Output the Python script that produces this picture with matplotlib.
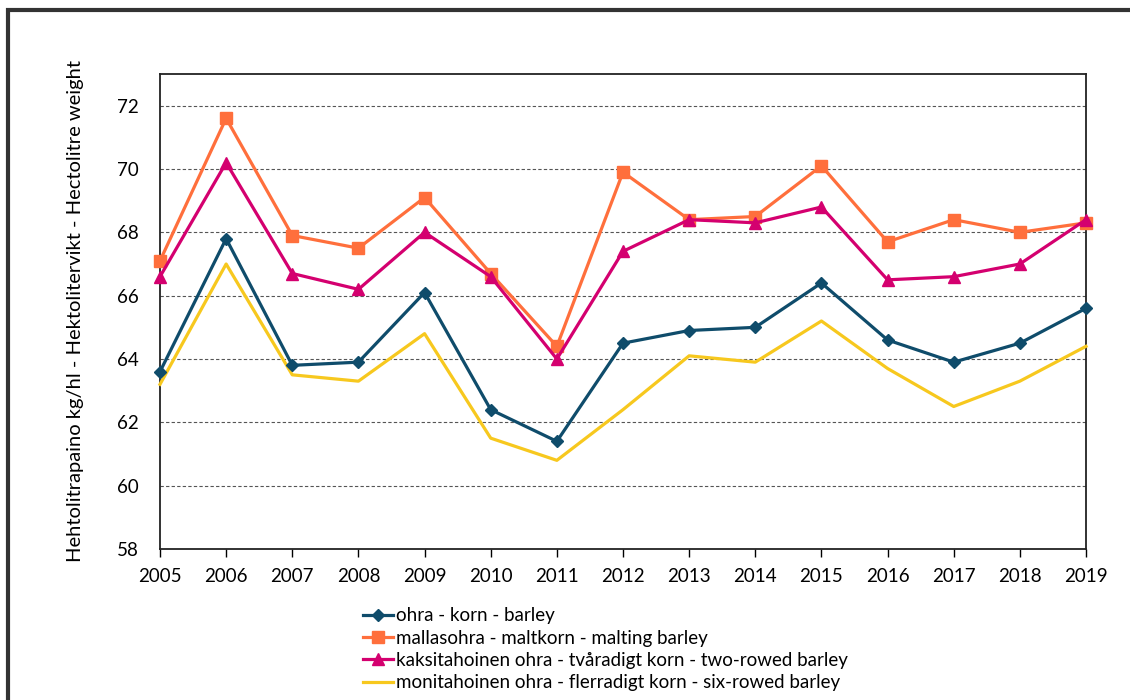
import matplotlib
matplotlib.use("Agg")
import matplotlib.pyplot as plt
from matplotlib.patches import Rectangle

plt.rcParams['font.family'] = ['Lato', 'DejaVu Sans']

years = list(range(2005, 2020))
barley = [63.6, 67.8, 63.8, 63.9, 66.1, 62.4, 61.4, 64.5, 64.9, 65.0, 66.4, 64.6, 63.9, 64.5, 65.6]
malting = [67.1, 71.6, 67.9, 67.5, 69.1, 66.7, 64.4, 69.9, 68.4, 68.5, 70.1, 67.7, 68.4, 68.0, 68.3]
two_rowed = [66.6, 70.2, 66.7, 66.2, 68.0, 66.6, 64.0, 67.4, 68.4, 68.3, 68.8, 66.5, 66.6, 67.0, 68.4]
six_rowed = [63.2, 67.0, 63.5, 63.3, 64.8, 61.5, 60.8, 62.4, 64.1, 63.9, 65.2, 63.7, 62.5, 63.3, 64.4]

labels = ["ohra - korn - barley",
          "mallasohra - maltkorn - malting barley",
          "kaksitahoinen ohra - tvåradigt korn - two-rowed barley",
          "monitahoinen ohra - flerradigt korn - six-rowed barley"]
yticks = [58, 60, 62, 64, 66, 68, 70, 72]

fig = plt.figure(figsize=(11.3, 7), dpi=100)
ax = fig.add_axes([160/1130, 1-549/700, (1086-160)/1130, (549-74)/700])

# outer frame
fig.patches.append(Rectangle((8/1130, -0.1), 1.2, 1.1 - 10/700, transform=fig.transFigure,
                             fill=False, edgecolor='#333333', linewidth=3))

ax.plot(years, barley, color='#0f4c6b', lw=2.3, marker='D', ms=6, label=labels[0], clip_on=False, zorder=5)
ax.plot(years, malting, color='#ff6f3c', lw=2.3, marker='s', ms=8, label=labels[1], clip_on=False, zorder=4)
ax.plot(years, two_rowed, color='#d4006f', lw=2.3, marker='^', ms=8, label=labels[2], clip_on=False, zorder=4)
ax.plot(years, six_rowed, color='#f7c81e', lw=2.3, label=labels[3], clip_on=False, zorder=3)

ax.set_xlim(2005, 2019)
ax.set_ylim(58, 73)
ax.set_xticks(years)
ax.set_yticks(yticks)
ax.tick_params(axis='x', labelsize=13.5, length=6, width=1, direction='out', pad=8)
ax.tick_params(axis='y', labelsize=13.5, length=0, pad=15)
for y in yticks[1:]:
    ax.axhline(y, color='#555555', lw=0.8, ls=(0, (3, 2)), zorder=1)
for s in ax.spines.values():
    s.set_linewidth(1.3)
    s.set_color('#222222')

ax.set_ylabel("Hehtolitrapaino kg/hl - Hektolitervikt - Hectolitre weight", fontsize=14.5, labelpad=24)

fig.legend(loc='upper left', bbox_to_anchor=(355/1130, 1-600/700), frameon=False, fontsize=13.5,
           handlelength=1.6, handletextpad=0.2, labelspacing=0.28, borderaxespad=0)

fig.savefig("out.png", dpi=100)
